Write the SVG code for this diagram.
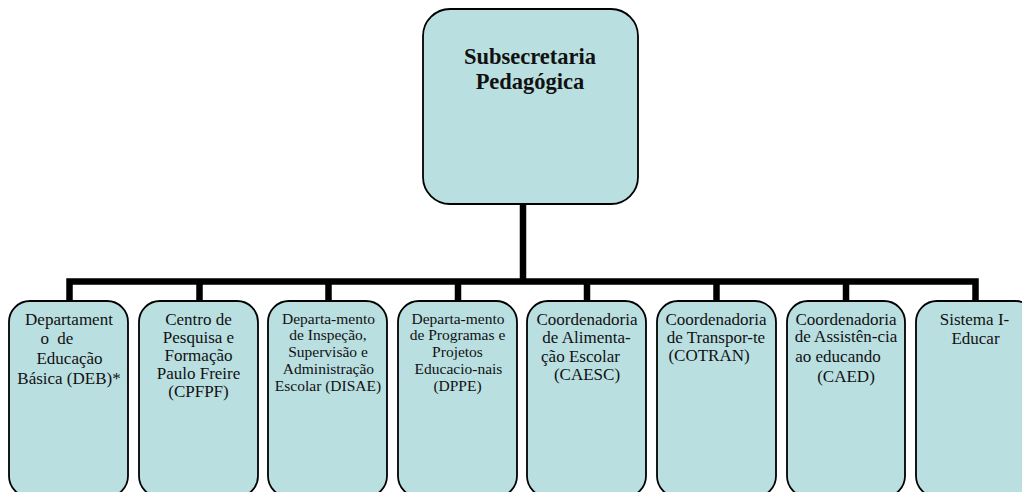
<svg xmlns="http://www.w3.org/2000/svg" width="1022" height="492" viewBox="0 0 1022 492">
<style>
.box{fill:#b9dfe1;stroke:#000;stroke-width:1.8}
.con{fill:none;stroke:#000;stroke-width:6.5;stroke-linejoin:miter}
text{font-family:'Liberation Serif','DejaVu Serif',serif;fill:#111;text-anchor:middle}
.t{font-size:17px}
.s{font-size:15.5px}
.title{font-size:22.5px;font-weight:bold}
</style>
<rect width="1022" height="492" fill="#fff"/>
<g id="connectors">
<path class="con" d="M523,204 V281.5"/>
<path class="con" d="M69.5,303 V281.5 H975.5 V303"/>
<path class="con" d="M199.5,281.5 V303"/>
<path class="con" d="M328.5,281.5 V303"/>
<path class="con" d="M458,281.5 V303"/>
<path class="con" d="M587,281.5 V303"/>
<path class="con" d="M716.5,281.5 V303"/>
<path class="con" d="M846,281.5 V303"/>
</g>
<g id="subsecretaria">
<rect class="box" x="423" y="9" width="215" height="195" rx="27"/>
<text class="title" x="530" y="64" font-family="Liberation Serif, DejaVu Serif, serif">Subsecretaria</text>
<text class="title" x="530" y="89" font-family="Liberation Serif, DejaVu Serif, serif">Pedagógica</text>
</g>
<g id="deb">
<rect class="box" x="9" y="301" width="119" height="196" rx="21"/>
<text class="t"><tspan x="69" y="325">Departament</tspan><tspan x="57" y="344" word-spacing="4">o de</tspan><tspan x="69.5" y="364">Educação</tspan><tspan x="69" y="384">Básica (DEB)*</tspan></text>
</g>
<g id="cpfpf">
<rect class="box" x="139" y="301" width="119" height="196" rx="21"/>
<text class="t"><tspan x="198.5" y="325">Centro de</tspan><tspan x="198.5" y="343">Pesquisa e</tspan><tspan x="198.5" y="361">Formação</tspan><tspan x="198.5" y="379">Paulo Freire</tspan><tspan x="198.5" y="397">(CPFPF)</tspan></text>
</g>
<g id="disae">
<rect class="box" x="268" y="301" width="119" height="196" rx="21"/>
<text class="t s"><tspan x="328.5" y="323.5">Departa-mento</tspan><tspan x="328" y="340">de Inspeção,</tspan><tspan x="328" y="357">Supervisão e</tspan><tspan x="328.5" y="373.5">Administração</tspan><tspan x="328" y="391">Escolar (DISAE)</tspan></text>
</g>
<g id="dppe">
<rect class="box" x="398" y="301" width="119" height="196" rx="21"/>
<text class="t s"><tspan x="458" y="323.5">Departa-mento</tspan><tspan x="457.5" y="340">de Programas e</tspan><tspan x="457.5" y="357">Projetos</tspan><tspan x="458.5" y="373.5">Educacio-nais</tspan><tspan x="457.5" y="391">(DPPE)</tspan></text>
</g>
<g id="caesc">
<rect class="box" x="527" y="301" width="119" height="196" rx="21"/>
<text class="t"><tspan x="587" y="325">Coordenadoria</tspan><tspan x="586.5" y="343">de Alimenta-</tspan><tspan x="580.5" y="362">ção Escolar</tspan><tspan x="587" y="380">(CAESC)</tspan></text>
</g>
<g id="cotran">
<rect class="box" x="657" y="301" width="119" height="196" rx="21"/>
<text class="t"><tspan x="716" y="325">Coordenadoria</tspan><tspan x="716" y="343">de Transpor-te</tspan><tspan x="709" y="361">(COTRAN)</tspan></text>
</g>
<g id="caed">
<rect class="box" x="787" y="301" width="118" height="196" rx="21"/>
<text class="t"><tspan x="846" y="325">Coordenadoria</tspan><tspan x="846" y="342">de Assistên-cia</tspan><tspan x="838" y="362">ao educando</tspan><tspan x="846" y="382">(CAED)</tspan></text>
</g>
<g id="ieducar">
<rect class="box" x="916" y="301" width="120" height="196" rx="21"/>
<text class="t"><tspan x="974.5" y="325">Sistema I-</tspan><tspan x="975.5" y="344">Educar</tspan></text>
</g>
</svg>
